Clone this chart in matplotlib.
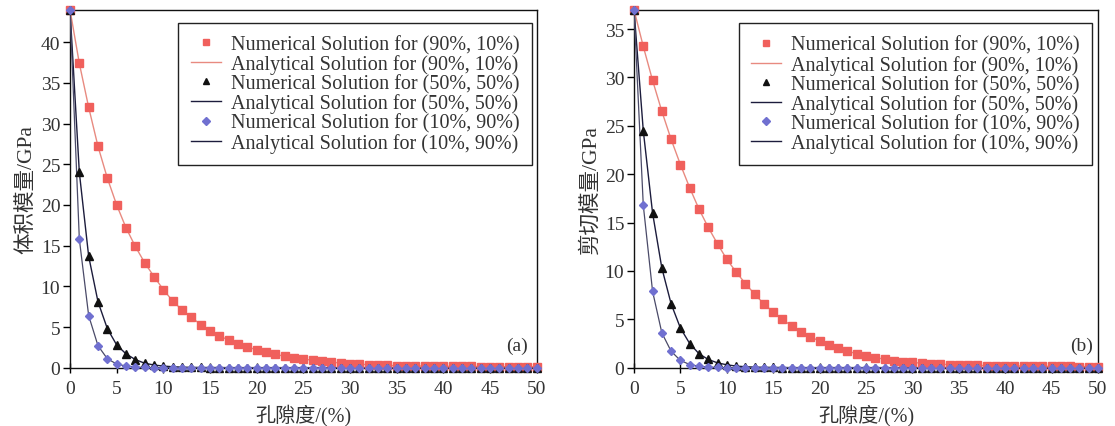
import matplotlib
matplotlib.use("Agg")
import matplotlib.pyplot as plt
from matplotlib.lines import Line2D

porosity = list(range(0, 51))

# (a) bulk modulus / GPa
bulk_90_10 = [44.0, 37.4, 32.0, 27.2, 23.3, 20.0, 17.2, 14.9, 12.9, 11.2,
              9.6, 8.2, 7.1, 6.2, 5.3, 4.55, 3.9, 3.4, 2.95, 2.55,
              2.2, 1.9, 1.65, 1.4, 1.2, 1.05, 0.92, 0.8, 0.68, 0.58,
              0.5, 0.43, 0.37, 0.32, 0.28, 0.25, 0.23, 0.21, 0.2, 0.19,
              0.18, 0.17, 0.16, 0.15, 0.14, 0.13, 0.13, 0.12, 0.12, 0.11, 0.11]
bulk_50_50 = [44.0, 24.0, 13.7, 8.1, 4.8, 2.8, 1.7, 1.0, 0.55, 0.33,
              0.2, 0.12, 0.07, 0.04, 0.03, 0.02, 0.02, 0.01, 0.01, 0.01,
              0.01, 0.01, 0.01, 0.01, 0.01, 0.01, 0.01, 0.01, 0.01, 0.01,
              0.01, 0.01, 0.01, 0.01, 0.01, 0.01, 0.01, 0.01, 0.01, 0.01,
              0.01, 0.01, 0.01, 0.01, 0.01, 0.01, 0.01, 0.01, 0.01, 0.01, 0.01]
bulk_10_90 = [44.0, 15.8, 6.4, 2.7, 1.1, 0.45, 0.2, 0.08, 0.03, 0.02,
              0.01, 0.01, 0.01, 0.01, 0.01, 0.01, 0.01, 0.01, 0.01, 0.01,
              0.01, 0.01, 0.01, 0.01, 0.01, 0.01, 0.01, 0.01, 0.01, 0.01,
              0.01, 0.01, 0.01, 0.01, 0.01, 0.01, 0.01, 0.01, 0.01, 0.01,
              0.01, 0.01, 0.01, 0.01, 0.01, 0.01, 0.01, 0.01, 0.01, 0.01, 0.01]

# (b) shear modulus / GPa
shear_90_10 = [37.0, 33.2, 29.7, 26.5, 23.6, 21.0, 18.6, 16.4, 14.5, 12.8,
               11.2, 9.9, 8.7, 7.6, 6.6, 5.75, 5.0, 4.3, 3.7, 3.2,
               2.75, 2.35, 2.0, 1.7, 1.45, 1.25, 1.05, 0.88, 0.74, 0.63,
               0.54, 0.47, 0.41, 0.36, 0.32, 0.29, 0.26, 0.24, 0.22, 0.2,
               0.19, 0.18, 0.17, 0.16, 0.15, 0.14, 0.13, 0.13, 0.12, 0.12, 0.11]
shear_50_50 = [37.0, 24.5, 16.0, 10.3, 6.6, 4.1, 2.5, 1.45, 0.85, 0.5,
               0.3, 0.17, 0.1, 0.06, 0.04, 0.03, 0.02, 0.01, 0.01, 0.01,
               0.01, 0.01, 0.01, 0.01, 0.01, 0.01, 0.01, 0.01, 0.01, 0.01,
               0.01, 0.01, 0.01, 0.01, 0.01, 0.01, 0.01, 0.01, 0.01, 0.01,
               0.01, 0.01, 0.01, 0.01, 0.01, 0.01, 0.01, 0.01, 0.01, 0.01, 0.01]
shear_10_90 = [37.0, 16.8, 7.9, 3.6, 1.7, 0.75, 0.33, 0.15, 0.07, 0.03,
               0.02, 0.01, 0.01, 0.01, 0.01, 0.01, 0.01, 0.01, 0.01, 0.01,
               0.01, 0.01, 0.01, 0.01, 0.01, 0.01, 0.01, 0.01, 0.01, 0.01,
               0.01, 0.01, 0.01, 0.01, 0.01, 0.01, 0.01, 0.01, 0.01, 0.01,
               0.01, 0.01, 0.01, 0.01, 0.01, 0.01, 0.01, 0.01, 0.01, 0.01, 0.01]

labels = ["Numerical Solution for (90%, 10%)",
          "Analytical Solution for (90%, 10%)",
          "Numerical Solution for (50%, 50%)",
          "Analytical Solution for (50%, 50%)",
          "Numerical Solution for (10%, 90%)",
          "Analytical Solution for (10%, 90%)"]
ylabels = ["体积模量/GPa", "剪切模量/GPa"]
xlabel = "孔隙度/(%)"
panel_tags = ["(a)", "(b)"]

FAM = ["Liberation Serif", "Noto Sans CJK SC"]
plt.rcParams["font.family"] = FAM

fig = plt.figure(figsize=(11.15, 4.27), dpi=100)
W, H = 1115, 427
ax_a = fig.add_axes([70 / W, 1 - 368.7 / H, 466.7 / W, 358 / H])
ax_b = fig.add_axes([634 / W, 1 - 368.7 / H, 464 / W, 358 / H])

red_m = "#f0605c"
red_l = "#e88a80"
blk_m = "#111111"
blk_l = "#1c1c3c"
blu_m = "#7070d0"
blu_l = "#4a4a68"
txt_c = "#333333"

panels = [
    (ax_a, bulk_90_10, bulk_50_50, bulk_10_90, 44, 40, ylabels[0], panel_tags[0], 0.981, (0.989, 0.964)),
    (ax_b, shear_90_10, shear_50_50, shear_10_90, 37, 35, ylabels[1], panel_tags[1], 0.99, (0.987, 0.962)),
]

for ax, s1, s2, s3, ymax, ytop, ylab, tag, tagx, lpos in panels:
    ax.plot(porosity, s1, color=red_l, lw=1.0, zorder=3)
    ax.plot(porosity, s2, color=blk_l, lw=1.0, zorder=3)
    ax.plot(porosity, s3, color=blu_l, lw=0.9, zorder=3)
    ax.plot(porosity, s1, ls="none", marker="s", ms=6, color=red_m, mec=red_m, zorder=4, clip_on=False)
    ax.plot(porosity, s2, ls="none", marker="^", ms=6, color=blk_m, mec=blk_m, zorder=4, clip_on=False)
    ax.plot(porosity, s3, ls="none", marker="D", ms=4.5, color=blu_m, mec=blu_m, zorder=4, clip_on=False)

    ax.set_xlim(0, 50)
    ax.set_ylim(0, ymax)
    ax.set_xticks(range(0, 51, 5))
    ax.set_yticks(range(0, ytop + 1, 5))
    ax.tick_params(axis="y", direction="out", length=5, width=1, labelsize=14,
                   pad=2, labelcolor=txt_c)
    ax.tick_params(axis="x", direction="inout", length=7, width=1, labelsize=14,
                   pad=5, labelcolor=txt_c)
    for sp in ax.spines.values():
        sp.set_linewidth(1.0)
        sp.set_color("#111111")
    ax.set_ylabel(ylab, fontsize=15.5, family=FAM, labelpad=3, color=txt_c)
    ax.set_xlabel(xlabel, fontsize=14.5, family=FAM, labelpad=5, color=txt_c)
    ax.text(tagx, 0.062, tag, transform=ax.transAxes, ha="right", va="center",
            fontsize=14, color=txt_c)

    handles = [
        Line2D([], [], ls="none", marker="s", ms=5, color=red_m),
        Line2D([], [], color=red_l, lw=1.0),
        Line2D([], [], ls="none", marker="^", ms=5, color=blk_m),
        Line2D([], [], color=blk_l, lw=1.0),
        Line2D([], [], ls="none", marker="D", ms=4, color=blu_m),
        Line2D([], [], color=blk_l, lw=1.0),
    ]
    leg = ax.legend(handles, labels, loc="upper right", bbox_to_anchor=lpos,
                    borderaxespad=0, fontsize=14.5, frameon=True, fancybox=False,
                    edgecolor="#222222", framealpha=1, handlelength=1.5,
                    handletextpad=0.5, labelspacing=0.0, borderpad=0.6, numpoints=1)
    leg.get_frame().set_linewidth(1.0)
    for t in leg.get_texts():
        t.set_color(txt_c)

fig.savefig("out.png", dpi=100)
